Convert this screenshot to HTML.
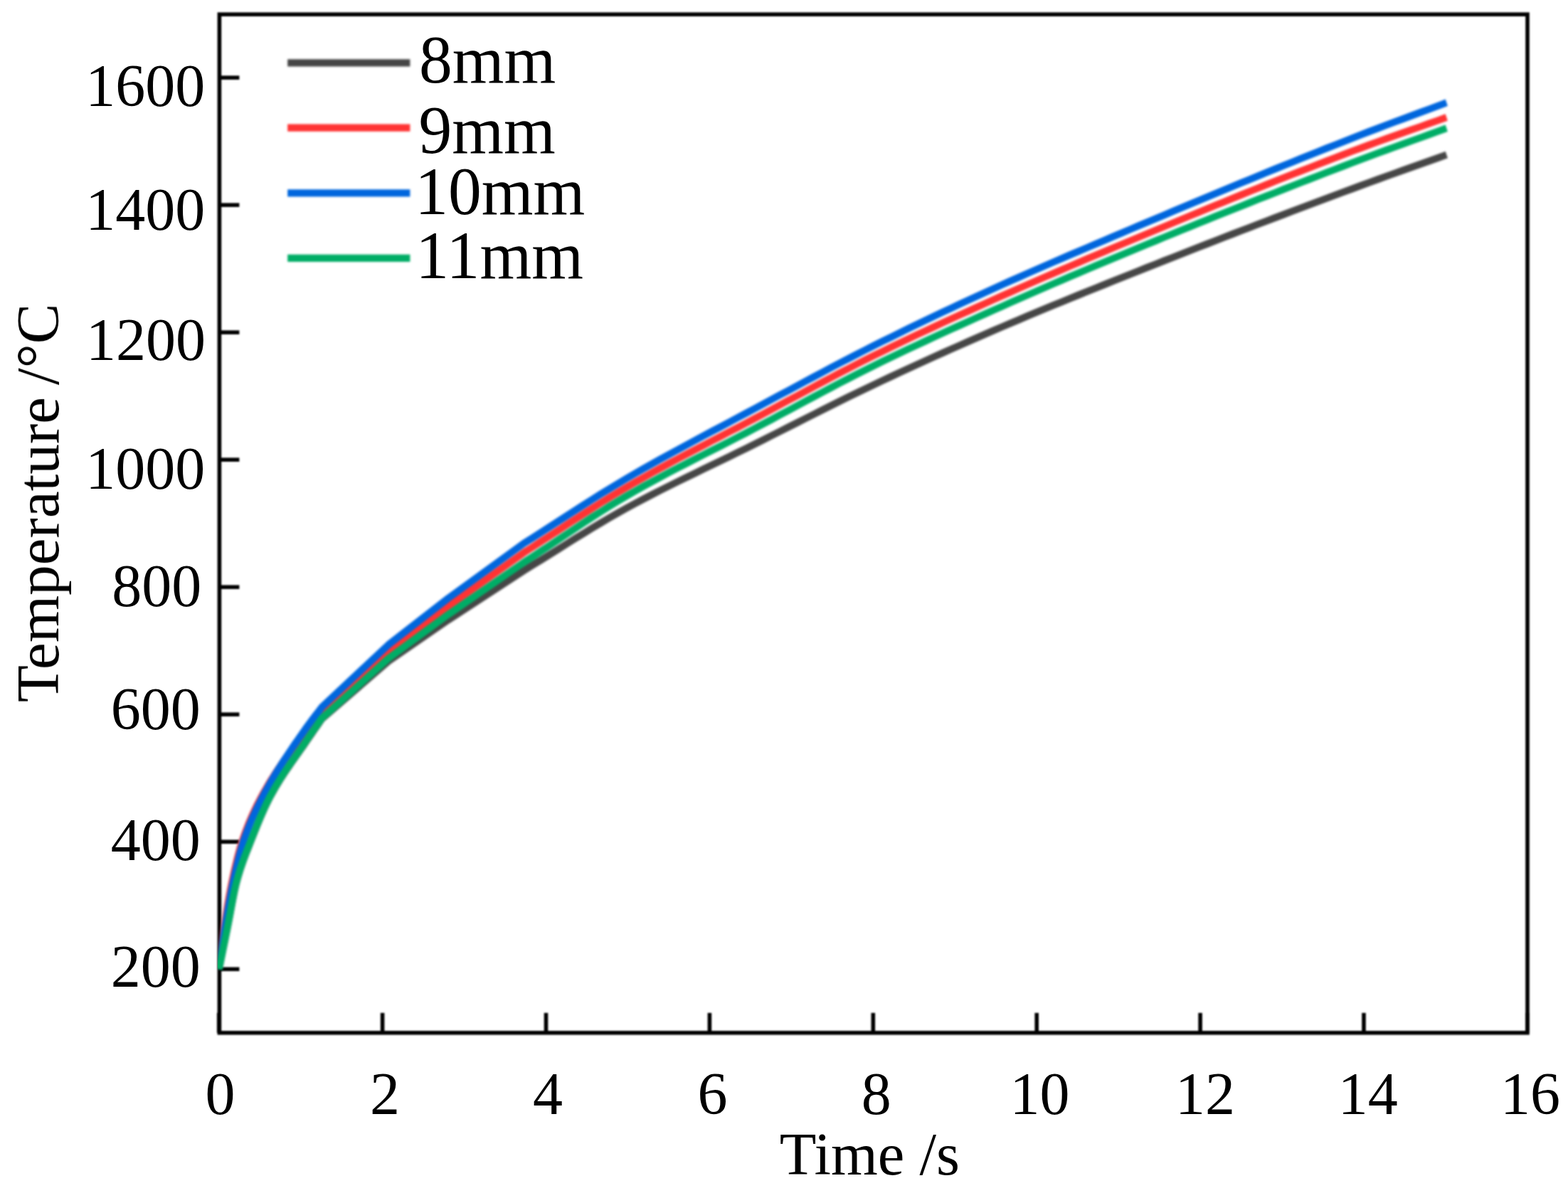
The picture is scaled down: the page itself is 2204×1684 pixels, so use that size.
<!DOCTYPE html>
<html lang="en">
<head>
<meta charset="utf-8">
<title>Temperature vs Time</title>
<style>
html,body{margin:0;padding:0;background:#fff;}
body{width:2204px;height:1684px;overflow:hidden;}
svg{display:block;}
text{font-family:"Liberation Serif","DejaVu Serif",serif;fill:#000;}
.tk{font-size:84px;}
.lg{font-size:95px;}
.ax{stroke:#000;stroke-width:5.6;fill:none;stroke-linecap:butt;}
.cv{fill:none;stroke-width:10.0;stroke-linejoin:round;stroke-linecap:butt;}
#axes{filter:blur(1.0px);}
#curves,#legend-lines{filter:blur(1.5px);}
#labels{filter:blur(0.55px);}
</style>
</head>
<body>
<svg width="2204" height="1684" viewBox="0 0 2204 1684">
<rect x="0" y="0" width="2204" height="1684" fill="#ffffff"/>
<g id="shapes">
<g id="axes">
<rect class="ax" x="308.4" y="20.2" width="1838.60" height="1431.60"/>
<line class="ax" x1="307.70" y1="1451.8" x2="307.70" y2="1423.8"/>
<line class="ax" x1="537.60" y1="1451.8" x2="537.60" y2="1423.8"/>
<line class="ax" x1="767.50" y1="1451.8" x2="767.50" y2="1423.8"/>
<line class="ax" x1="997.40" y1="1451.8" x2="997.40" y2="1423.8"/>
<line class="ax" x1="1227.30" y1="1451.8" x2="1227.30" y2="1423.8"/>
<line class="ax" x1="1457.20" y1="1451.8" x2="1457.20" y2="1423.8"/>
<line class="ax" x1="1687.10" y1="1451.8" x2="1687.10" y2="1423.8"/>
<line class="ax" x1="1917.00" y1="1451.8" x2="1917.00" y2="1423.8"/>
<line class="ax" x1="2146.90" y1="1451.8" x2="2146.90" y2="1423.8"/>
<line class="ax" x1="308.4" y1="1362.29" x2="336.4" y2="1362.29"/>
<line class="ax" x1="308.4" y1="1183.27" x2="336.4" y2="1183.27"/>
<line class="ax" x1="308.4" y1="1004.25" x2="336.4" y2="1004.25"/>
<line class="ax" x1="308.4" y1="825.23" x2="336.4" y2="825.23"/>
<line class="ax" x1="308.4" y1="646.21" x2="336.4" y2="646.21"/>
<line class="ax" x1="308.4" y1="467.19" x2="336.4" y2="467.19"/>
<line class="ax" x1="308.4" y1="288.17" x2="336.4" y2="288.17"/>
<line class="ax" x1="308.4" y1="109.15" x2="336.4" y2="109.15"/>
</g>
<clipPath id="plotclip"><rect x="305.90" y="20.2" width="1838.60" height="1431.60"/></clipPath>
<g id="curves" clip-path="url(#plotclip)">
<path class="cv" stroke="#464646" d="M307.7,1362.5 L309.7,1352.7 L311.7,1342.8 L313.7,1333.0 L315.7,1323.2 L317.7,1313.4 L319.7,1303.5 L321.7,1293.4 L323.7,1282.7 L325.7,1271.9 L327.7,1261.3 L329.7,1251.5 L331.7,1242.7 L333.7,1235.3 L335.7,1228.4 L337.7,1222.1 L339.7,1216.1 L341.7,1210.4 L343.7,1205.0 L345.7,1199.8 L347.7,1194.7 L349.7,1189.6 L351.7,1184.5 L353.7,1179.4 L355.7,1174.3 L357.7,1169.3 L359.7,1164.3 L361.7,1159.4 L363.7,1154.6 L365.7,1149.8 L367.7,1145.2 L369.7,1140.7 L371.7,1136.3 L373.7,1132.0 L375.7,1127.8 L377.7,1123.8 L379.7,1120.0 L381.7,1116.3 L383.7,1112.7 L385.7,1109.2 L387.7,1105.8 L389.7,1102.4 L391.7,1099.1 L393.7,1095.9 L395.7,1092.8 L397.7,1089.7 L399.7,1086.6 L401.7,1083.7 L403.7,1080.7 L405.7,1077.8 L407.7,1074.9 L409.7,1072.0 L411.7,1069.2 L413.7,1066.4 L415.7,1063.5 L417.7,1060.7 L419.7,1057.9 L421.7,1055.0 L423.7,1052.2 L425.7,1049.3 L427.7,1046.4 L429.7,1043.4 L431.7,1040.5 L433.7,1037.6 L435.7,1034.7 L437.7,1031.8 L439.7,1028.9 L441.7,1026.0 L443.7,1023.1 L445.7,1020.3 L447.7,1017.4 L449.7,1014.5 L451.7,1011.7 L452.5,1010.5 L546.0,929.5 L630.0,871.5 L736.4,802.0 L748.4,794.6 L760.4,787.2 L772.4,779.7 L784.4,772.2 L796.4,764.6 L808.4,757.1 L820.4,749.7 L832.4,742.3 L844.4,735.1 L856.4,728.0 L868.4,721.1 L880.4,714.4 L892.4,707.9 L904.4,701.5 L916.4,695.2 L928.4,689.1 L940.4,683.1 L952.4,677.1 L964.4,671.2 L976.4,665.4 L988.4,659.6 L1000.4,653.8 L1012.4,648.0 L1024.4,642.2 L1036.4,636.3 L1048.4,630.5 L1060.4,624.5 L1072.4,618.5 L1084.4,612.4 L1096.4,606.4 L1108.4,600.3 L1120.4,594.2 L1132.4,588.1 L1144.4,582.1 L1156.4,576.0 L1168.4,570.0 L1180.4,564.0 L1192.4,558.1 L1204.4,552.2 L1216.4,546.4 L1228.4,540.7 L1240.4,535.0 L1252.4,529.4 L1264.4,523.8 L1276.4,518.2 L1288.4,512.7 L1300.4,507.2 L1312.4,501.8 L1324.4,496.4 L1336.4,491.0 L1348.4,485.7 L1360.4,480.4 L1372.4,475.1 L1384.4,469.9 L1396.4,464.7 L1408.4,459.5 L1420.4,454.4 L1432.4,449.3 L1444.4,444.2 L1456.4,439.2 L1468.4,434.2 L1480.4,429.2 L1492.4,424.3 L1504.4,419.4 L1516.4,414.5 L1528.4,409.6 L1540.4,404.8 L1552.4,400.0 L1564.4,395.1 L1576.4,390.3 L1588.4,385.6 L1600.4,380.8 L1612.4,376.0 L1624.4,371.3 L1636.4,366.5 L1648.4,361.8 L1660.4,357.1 L1672.4,352.4 L1684.4,347.7 L1696.4,343.0 L1708.4,338.3 L1720.4,333.7 L1732.4,329.0 L1744.4,324.4 L1756.4,319.8 L1768.4,315.2 L1780.4,310.6 L1792.4,306.0 L1804.4,301.5 L1816.4,296.9 L1828.4,292.4 L1840.4,287.9 L1852.4,283.4 L1864.4,278.9 L1876.4,274.4 L1888.4,269.9 L1900.4,265.5 L1912.4,261.0 L1924.4,256.6 L1936.4,252.2 L1948.4,247.9 L1960.4,243.6 L1972.4,239.3 L1984.4,235.0 L1996.4,230.8 L2008.4,226.5 L2020.4,222.2 L2032.4,217.9 L2033.3,217.6"/>
<path class="cv" stroke="#ff3333" d="M307.7,1362.5 L309.7,1346.5 L311.7,1330.2 L313.7,1314.4 L315.7,1300.0 L317.7,1286.9 L319.7,1274.4 L321.7,1262.6 L323.7,1251.6 L325.7,1241.4 L327.7,1232.0 L329.7,1222.9 L331.7,1214.3 L333.7,1206.1 L335.7,1198.5 L337.7,1191.4 L339.7,1184.8 L341.7,1178.8 L343.7,1173.1 L345.7,1167.7 L347.7,1162.5 L349.7,1157.4 L351.7,1152.6 L353.7,1148.0 L355.7,1143.6 L357.7,1139.3 L359.7,1135.1 L361.7,1131.1 L363.7,1127.2 L365.7,1123.4 L367.7,1119.6 L369.7,1116.0 L371.7,1112.4 L373.7,1108.9 L375.7,1105.4 L377.7,1102.0 L379.7,1098.7 L381.7,1095.5 L383.7,1092.3 L385.7,1089.1 L387.7,1086.0 L389.7,1083.0 L391.7,1080.0 L393.7,1077.1 L395.7,1074.2 L397.7,1071.3 L399.7,1068.5 L401.7,1065.7 L403.7,1062.9 L405.7,1060.1 L407.7,1057.4 L409.7,1054.7 L411.7,1052.1 L413.7,1049.4 L415.7,1046.8 L417.7,1044.1 L419.7,1041.5 L421.7,1038.9 L423.7,1036.3 L425.7,1033.6 L427.7,1031.0 L429.7,1028.4 L431.7,1025.8 L433.7,1023.2 L435.7,1020.7 L437.7,1018.3 L439.7,1015.8 L441.7,1013.4 L443.7,1011.1 L445.7,1008.7 L447.7,1006.3 L449.7,1003.9 L451.7,1001.5 L452.5,1000.5 L546.0,916.0 L630.0,852.3 L736.4,776.8 L748.4,769.1 L760.4,761.3 L772.4,753.5 L784.4,745.7 L796.4,737.8 L808.4,730.0 L820.4,722.2 L832.4,714.5 L844.4,706.9 L856.4,699.5 L868.4,692.2 L880.4,685.1 L892.4,678.1 L904.4,671.3 L916.4,664.6 L928.4,658.0 L940.4,651.5 L952.4,645.1 L964.4,638.8 L976.4,632.5 L988.4,626.2 L1000.4,619.9 L1012.4,613.7 L1024.4,607.4 L1036.4,601.2 L1048.4,594.8 L1060.4,588.5 L1072.4,582.1 L1084.4,575.6 L1096.4,569.2 L1108.4,562.7 L1120.4,556.3 L1132.4,549.8 L1144.4,543.4 L1156.4,537.0 L1168.4,530.6 L1180.4,524.3 L1192.4,518.1 L1204.4,511.9 L1216.4,505.8 L1228.4,499.8 L1240.4,493.9 L1252.4,488.0 L1264.4,482.2 L1276.4,476.5 L1288.4,470.8 L1300.4,465.2 L1312.4,459.6 L1324.4,454.0 L1336.4,448.5 L1348.4,443.0 L1360.4,437.6 L1372.4,432.1 L1384.4,426.7 L1396.4,421.3 L1408.4,415.9 L1420.4,410.6 L1432.4,405.3 L1444.4,400.0 L1456.4,394.7 L1468.4,389.5 L1480.4,384.3 L1492.4,379.1 L1504.4,374.0 L1516.4,368.8 L1528.4,363.7 L1540.4,358.7 L1552.4,353.6 L1564.4,348.5 L1576.4,343.5 L1588.4,338.5 L1600.4,333.5 L1612.4,328.5 L1624.4,323.5 L1636.4,318.5 L1648.4,313.5 L1660.4,308.5 L1672.4,303.5 L1684.4,298.6 L1696.4,293.6 L1708.4,288.7 L1720.4,283.8 L1732.4,278.9 L1744.4,274.0 L1756.4,269.2 L1768.4,264.3 L1780.4,259.5 L1792.4,254.7 L1804.4,249.9 L1816.4,245.2 L1828.4,240.5 L1840.4,235.8 L1852.4,231.1 L1864.4,226.5 L1876.4,221.8 L1888.4,217.3 L1900.4,212.7 L1912.4,208.2 L1924.4,203.7 L1936.4,199.4 L1948.4,195.0 L1960.4,190.8 L1972.4,186.5 L1984.4,182.3 L1996.4,178.1 L2008.4,173.8 L2020.4,169.6 L2032.4,165.3 L2033.3,165.0"/>
<path class="cv" stroke="#0066dd" d="M307.7,1362.5 L309.7,1348.7 L311.7,1334.7 L313.7,1320.8 L315.7,1307.5 L317.7,1295.1 L319.7,1283.1 L321.7,1271.4 L323.7,1260.3 L325.7,1249.8 L327.7,1240.0 L329.7,1230.8 L331.7,1221.8 L333.7,1213.3 L335.7,1205.1 L337.7,1197.5 L339.7,1190.4 L341.7,1183.9 L343.7,1178.0 L345.7,1172.3 L347.7,1166.9 L349.7,1161.8 L351.7,1156.9 L353.7,1152.1 L355.7,1147.6 L357.7,1143.2 L359.7,1138.9 L361.7,1134.8 L363.7,1130.8 L365.7,1126.8 L367.7,1122.9 L369.7,1119.0 L371.7,1115.2 L373.7,1111.5 L375.7,1107.8 L377.7,1104.2 L379.7,1100.7 L381.7,1097.2 L383.7,1093.8 L385.7,1090.4 L387.7,1087.0 L389.7,1083.7 L391.7,1080.5 L393.7,1077.3 L395.7,1074.1 L397.7,1071.0 L399.7,1067.9 L401.7,1064.9 L403.7,1061.9 L405.7,1058.9 L407.7,1055.9 L409.7,1053.0 L411.7,1050.0 L413.7,1047.1 L415.7,1044.2 L417.7,1041.4 L419.7,1038.5 L421.7,1035.6 L423.7,1032.8 L425.7,1029.9 L427.7,1027.1 L429.7,1024.2 L431.7,1021.4 L433.7,1018.6 L435.7,1015.9 L437.7,1013.2 L439.7,1010.6 L441.7,1008.0 L443.7,1005.4 L445.7,1002.8 L447.7,1000.2 L449.7,997.6 L451.7,995.0 L452.5,993.9 L546.0,906.3 L630.0,841.0 L736.4,763.8 L748.4,756.2 L760.4,748.5 L772.4,740.7 L784.4,733.0 L796.4,725.2 L808.4,717.5 L820.4,709.8 L832.4,702.1 L844.4,694.6 L856.4,687.2 L868.4,679.9 L880.4,672.8 L892.4,665.8 L904.4,658.9 L916.4,652.1 L928.4,645.4 L940.4,638.8 L952.4,632.3 L964.4,625.8 L976.4,619.3 L988.4,612.9 L1000.4,606.5 L1012.4,600.2 L1024.4,593.8 L1036.4,587.4 L1048.4,581.0 L1060.4,574.6 L1072.4,568.1 L1084.4,561.7 L1096.4,555.2 L1108.4,548.8 L1120.4,542.3 L1132.4,535.9 L1144.4,529.5 L1156.4,523.1 L1168.4,516.7 L1180.4,510.4 L1192.4,504.2 L1204.4,498.0 L1216.4,491.9 L1228.4,485.8 L1240.4,479.8 L1252.4,473.9 L1264.4,468.0 L1276.4,462.1 L1288.4,456.3 L1300.4,450.5 L1312.4,444.8 L1324.4,439.1 L1336.4,433.5 L1348.4,427.8 L1360.4,422.3 L1372.4,416.7 L1384.4,411.2 L1396.4,405.7 L1408.4,400.3 L1420.4,394.9 L1432.4,389.6 L1444.4,384.3 L1456.4,379.0 L1468.4,373.7 L1480.4,368.5 L1492.4,363.4 L1504.4,358.2 L1516.4,353.1 L1528.4,348.0 L1540.4,342.9 L1552.4,337.8 L1564.4,332.7 L1576.4,327.6 L1588.4,322.5 L1600.4,317.4 L1612.4,312.4 L1624.4,307.3 L1636.4,302.3 L1648.4,297.2 L1660.4,292.2 L1672.4,287.1 L1684.4,282.1 L1696.4,277.1 L1708.4,272.1 L1720.4,267.1 L1732.4,262.2 L1744.4,257.2 L1756.4,252.3 L1768.4,247.3 L1780.4,242.4 L1792.4,237.5 L1804.4,232.6 L1816.4,227.8 L1828.4,222.9 L1840.4,218.1 L1852.4,213.3 L1864.4,208.5 L1876.4,203.8 L1888.4,199.1 L1900.4,194.3 L1912.4,189.7 L1924.4,185.0 L1936.4,180.5 L1948.4,175.9 L1960.4,171.4 L1972.4,167.0 L1984.4,162.5 L1996.4,158.0 L2008.4,153.6 L2020.4,149.1 L2032.4,144.6 L2033.3,144.3"/>
<path class="cv" stroke="#00ad66" d="M307.7,1362.5 L309.7,1352.7 L311.7,1342.9 L313.7,1333.1 L315.7,1323.2 L317.7,1313.4 L319.7,1303.5 L321.7,1293.3 L323.7,1282.6 L325.7,1271.7 L327.7,1261.0 L329.7,1251.1 L331.7,1242.3 L333.7,1234.9 L335.7,1228.0 L337.7,1221.6 L339.7,1215.6 L341.7,1210.0 L343.7,1204.6 L345.7,1199.3 L347.7,1194.2 L349.7,1189.1 L351.7,1184.0 L353.7,1178.9 L355.7,1173.8 L357.7,1168.7 L359.7,1163.8 L361.7,1158.8 L363.7,1154.0 L365.7,1149.3 L367.7,1144.6 L369.7,1140.1 L371.7,1135.7 L373.7,1131.4 L375.7,1127.3 L377.7,1123.3 L379.7,1119.4 L381.7,1115.7 L383.7,1112.1 L385.7,1108.6 L387.7,1105.1 L389.7,1101.8 L391.7,1098.5 L393.7,1095.3 L395.7,1092.1 L397.7,1089.0 L399.7,1085.9 L401.7,1082.9 L403.7,1079.9 L405.7,1077.0 L407.7,1074.1 L409.7,1071.2 L411.7,1068.3 L413.7,1065.5 L415.7,1062.6 L417.7,1059.8 L419.7,1056.9 L421.7,1054.1 L423.7,1051.2 L425.7,1048.3 L427.7,1045.4 L429.7,1042.4 L431.7,1039.5 L433.7,1036.6 L435.7,1033.6 L437.7,1030.7 L439.7,1027.9 L441.7,1025.0 L443.7,1022.1 L445.7,1019.3 L447.7,1016.4 L449.7,1013.5 L451.7,1010.7 L452.5,1009.5 L546.0,925.5 L630.0,863.8 L736.4,790.5 L748.4,782.7 L760.4,774.8 L772.4,766.8 L784.4,758.8 L796.4,750.8 L808.4,742.8 L820.4,734.9 L832.4,727.0 L844.4,719.4 L856.4,711.8 L868.4,704.5 L880.4,697.4 L892.4,690.5 L904.4,683.7 L916.4,677.1 L928.4,670.6 L940.4,664.2 L952.4,657.9 L964.4,651.7 L976.4,645.5 L988.4,639.4 L1000.4,633.3 L1012.4,627.2 L1024.4,621.1 L1036.4,614.9 L1048.4,608.7 L1060.4,602.4 L1072.4,596.0 L1084.4,589.7 L1096.4,583.2 L1108.4,576.8 L1120.4,570.4 L1132.4,563.9 L1144.4,557.5 L1156.4,551.1 L1168.4,544.8 L1180.4,538.4 L1192.4,532.2 L1204.4,526.0 L1216.4,520.0 L1228.4,514.0 L1240.4,508.1 L1252.4,502.3 L1264.4,496.5 L1276.4,490.8 L1288.4,485.2 L1300.4,479.6 L1312.4,474.0 L1324.4,468.5 L1336.4,463.0 L1348.4,457.6 L1360.4,452.2 L1372.4,446.8 L1384.4,441.4 L1396.4,436.0 L1408.4,430.7 L1420.4,425.3 L1432.4,420.0 L1444.4,414.7 L1456.4,409.5 L1468.4,404.2 L1480.4,399.0 L1492.4,393.9 L1504.4,388.7 L1516.4,383.6 L1528.4,378.5 L1540.4,373.4 L1552.4,368.4 L1564.4,363.3 L1576.4,358.3 L1588.4,353.3 L1600.4,348.4 L1612.4,343.4 L1624.4,338.5 L1636.4,333.5 L1648.4,328.6 L1660.4,323.7 L1672.4,318.8 L1684.4,313.9 L1696.4,309.1 L1708.4,304.2 L1720.4,299.4 L1732.4,294.6 L1744.4,289.8 L1756.4,285.0 L1768.4,280.2 L1780.4,275.5 L1792.4,270.8 L1804.4,266.0 L1816.4,261.3 L1828.4,256.7 L1840.4,252.0 L1852.4,247.4 L1864.4,242.7 L1876.4,238.1 L1888.4,233.5 L1900.4,228.9 L1912.4,224.4 L1924.4,219.9 L1936.4,215.4 L1948.4,211.0 L1960.4,206.6 L1972.4,202.3 L1984.4,197.9 L1996.4,193.6 L2008.4,189.3 L2020.4,184.9 L2032.4,180.5 L2033.3,180.2"/>
</g>
<g id="legend-lines">
<line x1="404.2" y1="88.4" x2="576.4" y2="88.4" stroke="#464646" stroke-width="10.3"/>
<line x1="404.2" y1="179.7" x2="576.4" y2="179.7" stroke="#ff3333" stroke-width="10.3"/>
<line x1="404.2" y1="271.4" x2="576.4" y2="271.4" stroke="#0066dd" stroke-width="10.3"/>
<line x1="404.2" y1="362.9" x2="576.4" y2="362.9" stroke="#00ad66" stroke-width="10.3"/>
</g>
</g>
<g id="labels">
<g id="legend-text">
<text class="lg" transform="translate(588.9,116.3) scale(0.985,1)">8mm</text>
<text class="lg" transform="translate(588.4,214.5) scale(0.985,1)">9mm</text>
<text class="lg" transform="translate(583.2,300.7) scale(0.985,1)">10mm</text>
<text class="lg" transform="translate(584.3,390.5) scale(0.985,1)">11mm</text>
</g>
<g id="xlabels" text-anchor="middle">
<text class="tk" x="309.6" y="1565.5">0</text>
<text class="tk" x="540.9" y="1565.5">2</text>
<text class="tk" x="770.0" y="1565.5">4</text>
<text class="tk" x="1001.6" y="1565.5">6</text>
<text class="tk" x="1231.8" y="1565.5">8</text>
<text class="tk" x="1461.5" y="1565.5">10</text>
<text class="tk" x="1694.0" y="1565.5">12</text>
<text class="tk" x="1922.7" y="1565.5">14</text>
<text class="tk" x="2151.1" y="1565.5">16</text>
</g>
<g id="ylabels" text-anchor="end">
<text class="tk" x="281.8" y="1386.8">200</text>
<text class="tk" x="281.8" y="1208.6">400</text>
<text class="tk" x="281.8" y="1025.2">600</text>
<text class="tk" x="283.2" y="851.8">800</text>
<text class="tk" x="288.2" y="687.0">1000</text>
<text class="tk" x="288.9" y="505.9">1200</text>
<text class="tk" x="288.2" y="322.9">1400</text>
<text class="tk" x="288.2" y="148.9">1600</text>
</g>
<text class="tk" style="font-size:84.6px" x="1222.3" y="1650.8" text-anchor="middle">Time /s</text>
<text class="tk" style="font-size:85.2px" transform="translate(82.0,987.2) rotate(-90)" text-anchor="start"><tspan letter-spacing="0">Temperature</tspan><tspan dx="-4.5"> /°C</tspan></text>
</g>
</svg>
</body>
</html>
